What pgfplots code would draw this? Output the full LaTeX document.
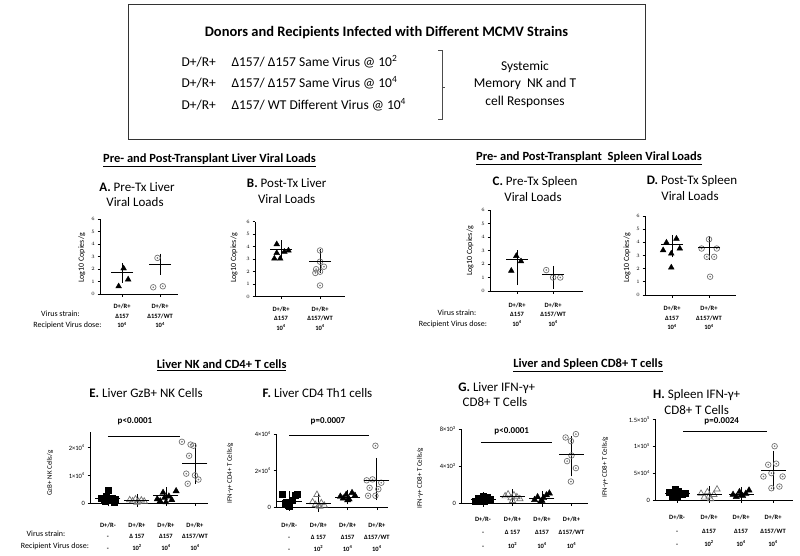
\documentclass[border=0pt]{standalone}
\usepackage{fontspec}
\setmainfont{Carlito}
\usepackage{pgfplots}
\pgfplotsset{compat=1.18}
\definecolor{cgray}{gray}{0.45}
\pgfdeclareplotmark{dotcircle}{%
  \pgfpathcircle{\pgfpointorigin}{\pgfplotmarksize}\pgfusepathqstroke
  \pgfpathcircle{\pgfpointorigin}{0.32\pgfplotmarksize}\pgfusepathqfill}
\pgfplotsset{
  panel/.style={scale only axis, anchor=south west, clip=false,
    axis lines*=left, axis line style={line width=0.9pt,-},
    tick align=outside, major tick length=2.5pt, tick style={line width=0.7pt,black},
    scaled y ticks=false,
    yticklabel style={font=\fontsize{5.5}{6}\selectfont, inner sep=0.5pt, xshift=-2pt},
    xticklabel style={align=center, inner sep=0pt, anchor=north}},
  eh/.style={yticklabel style={font=\fontsize{6.5}{7}\selectfont},
    tri/.style={only marks, mark=triangle*, mark size=3.6pt, black},
    otri/.style={only marks, mark=triangle, mark size=3.6pt, cgray, mark options={line width=0.7pt}},
    sq/.style={only marks, mark=square*, mark size=3pt, black},
    meanbar/.style={only marks, mark=-, mark size=12.5pt, black, mark options={line width=0.8pt},
      error bars/.cd, y dir=both, y explicit, error mark=-,
      error mark options={mark size=5pt, line width=0.8pt}, error bar style={line width=0.8pt}}},
  tri/.style={only marks, mark=triangle*, mark size=3.3pt, black},
  otri/.style={only marks, mark=triangle, mark size=3.3pt, cgray, mark options={line width=0.7pt}},
  sq/.style={only marks, mark=square*, mark size=2.7pt, black},
  circ/.style={only marks, mark=dotcircle, mark size=2.8pt, cgray, mark options={line width=0.7pt}},
  meanbar/.style={only marks, mark=-, mark size=11pt, black, mark options={line width=0.8pt},
    error bars/.cd, y dir=both, y explicit, error mark=-,
    error mark options={mark size=5pt, line width=0.8pt}, error bar style={line width=0.8pt}},
  sig/.style={black, line width=1pt},
}
\newcommand{\sq}[1]{\textsuperscript{#1}}
\begin{document}
\begin{tikzpicture}
\path[use as bounding box] (0pt,0pt) rectangle (800pt,-555pt);
% ---------- top box ----------
\draw[line width=1pt, black!80] (128pt,-4pt) rectangle (645pt,-139pt);
\node[font=\fontsize{14.5}{17}\selectfont\bfseries] at (386.5pt,-33pt) {Donors and Recipients Infected with Different MCMV Strains};
\begin{scope}[every node/.style={font=\fontsize{13.5}{16}\selectfont, anchor=west}]
\node at (178pt,-62pt) {D+/R+};
\node at (228pt,-62pt) {Δ157/ Δ157 Same Virus @ 10\sq{2}};
\node at (178pt,-83pt) {D+/R+};
\node at (228pt,-83pt) {Δ157/ Δ157 Same Virus @ 10\sq{4}};
\node at (178pt,-105pt) {D+/R+};
\node at (228pt,-105pt) {Δ157/ WT Different Virus @ 10\sq{4}};
\end{scope}
\draw[line width=1pt, black!70] (438pt,-50pt) -- (442pt,-50pt) -- (442pt,-119pt) -- (438pt,-119pt);
\draw[line width=1pt, black!70] (442pt,-87pt) -- (445pt,-87pt);
\begin{scope}[every node/.style={font=\fontsize{13.5}{16}\selectfont}]
\node at (525pt,-67pt) {Systemic};
\node at (525pt,-84pt) {Memory\ \ NK and T};
\node at (525pt,-102pt) {cell Responses};
\end{scope}
% ---------- headings ----------
\begin{scope}[every node/.style={font=\fontsize{12.5}{14}\selectfont\bfseries}]
\node at (209.5pt,-160pt) {\underline{Pre- and Post-Transplant Liver Viral Loads}};
\node at (589pt,-158.3pt) {\underline{Pre- and Post-Transplant\ \ Spleen Viral Loads}};
\node at (221.7pt,-365pt) {\underline{Liver NK and CD4+ T cells}};
\node at (588pt,-365pt) {\underline{Liver and Spleen CD8+ T cells}};
\end{scope}
% ---------- panel titles ----------
\begin{scope}[every node/.style={font=\fontsize{13}{15}\selectfont}]
\node at (137pt,-186.7pt) {\textbf{A.} Pre-Tx Liver};
\node at (135pt,-201.7pt) {Viral Loads};
\node at (286.7pt,-183.3pt) {\textbf{B.} Post-Tx Liver};
\node at (286.7pt,-199.3pt) {Viral Loads};
\node at (535pt,-181.7pt) {\textbf{C.} Pre-Tx Spleen};
\node at (533pt,-196.7pt) {Viral Loads};
\node at (692pt,-180.7pt) {\textbf{D.} Post-Tx Spleen};
\node at (690pt,-196pt) {Viral Loads};
\node at (146pt,-393.3pt) {\textbf{E.} Liver GzB+ NK Cells};
\node at (317.5pt,-393.3pt) {\textbf{F.} Liver CD4 Th1 cells};
\node at (496.7pt,-388.3pt) {\textbf{G.} Liver IFN-γ+};
\node at (495pt,-402pt) {CD8+ T Cells};
\node at (696.7pt,-395pt) {\textbf{H.} Spleen IFN-γ+};
\node at (696.7pt,-410pt) {CD8+ T Cells};
\end{scope}
% ---------- y labels ----------
\begin{scope}[every node/.style={font=\fontsize{8}{9}\selectfont, rotate=90}]
\node at (81.7pt,-258pt) {Log10 Copies/g};
\node at (234pt,-258pt) {Log10 Copies/g};
\node at (470pt,-251pt) {Log10 Copies/g};
\node at (627pt,-258pt) {Log10 Copies/g};
\end{scope}
\begin{scope}[every node/.style={font=\fontsize{7}{8}\selectfont, rotate=90}]
\node at (50pt,-473pt) {GzB+ NK Cells/g};
\node at (230pt,-473pt) {IFN-γ+ CD4+ T Cells/g};
\node at (420pt,-478pt) {IFN-γ+ CD8+ T Cells/g};
\node at (605pt,-467pt) {IFN-γ+ CD8+ T Cells/g};
\end{scope}
% ---------- row labels ----------
\begin{scope}[every node/.style={font=\fontsize{8}{9}\selectfont}]
\node at (60.5pt,-314pt) {Virus strain:};
\node at (67.5pt,-325pt) {Recipient Virus dose:};
\node at (457pt,-313pt) {Virus strain:};
\node at (453pt,-324pt) {Recipient Virus dose:};
\node at (46pt,-534pt) {Virus strain:};
\node at (55pt,-546pt) {Recipient Virus dose:};
\end{scope}
% ---------- p values ----------
\begin{scope}[every node/.style={font=\fontsize{9}{10}\selectfont\bfseries}]
\node at (135pt,-421.7pt) {p<0.0001};
\node at (328pt,-421.7pt) {p=0.0007};
\node at (511.7pt,-431.7pt) {p<0.0001};
\node at (721.7pt,-421.7pt) {p=0.0024};
\end{scope}

% ================= Panel A =================
\begin{axis}[panel, at={(100pt,-294pt)}, width=78pt, height=74.7pt,
  xmin=0.42, xmax=2.47, ymin=0, ymax=6, ytick={0,1,2,3,4,5,6},
  xtick={1,2}, xticklabels={{D+/R+\\Δ157\\10\sq{4}},{D+/R+\\Δ157/WT\\10\sq{4}}},
  xticklabel style={font=\fontsize{6.5}{9.5}\selectfont\bfseries, yshift=-7.5pt}]
\addplot[tri] coordinates {(0.91,0.62) (1.04,2.06) (1.16,1.17)};
\addplot[circ] coordinates {(1.82,0.54) (2.07,0.62) (1.93,2.9)};
\addplot[meanbar] coordinates {(1,1.7) += (0,0.4) -= (0,0.4)};
\addplot[meanbar] coordinates {(2,2.4) += (0,0.45) -= (0,0.45)};
\end{axis}
% ================= Panel B =================
\begin{axis}[panel, at={(255pt,-296.7pt)}, width=90pt, height=75pt,
  xmin=0.333, xmax=2.64, ymin=0, ymax=6, ytick={0,1,2,3,4,5,6},
  xtick={1,2}, xticklabels={{D+/R+\\Δ157\\10\sq{4}},{D+/R+\\Δ157/WT\\10\sq{4}}},
  xticklabel style={font=\fontsize{6.5}{9.5}\selectfont\bfseries, yshift=-7.5pt}]
\addplot[tri] coordinates {(0.89,4.2) (0.83,3.05) (0.98,3.05) (1.085,3.6) (1.19,3.7) (0.89,3.5)};
\addplot[circ] coordinates {(2,3.7) (2,2.8) (1.9,2.2) (2.1,2.4) (2,2.0) (1.88,1.9) (2,0.9)};
\addplot[meanbar] coordinates {(1,3.8) += (0,0.3) -= (0,0.4)};
\addplot[meanbar] coordinates {(2,2.85) += (0,0.55) -= (0,0.55)};
\end{axis}
% ================= Panel C =================
\begin{axis}[panel, at={(490pt,-291pt)}, width=93pt, height=81pt,
  xmin=0.25, xmax=2.83, ymin=0, ymax=6, ytick={0,1,2,3,4,5,6},
  xtick={1,2}, xticklabels={{D+/R+\\Δ157\\10\sq{4}},{D+/R+\\Δ157/WT\\10\sq{4}}},
  xticklabel style={font=\fontsize{6.5}{9.5}\selectfont\bfseries, yshift=-9pt}]
\addplot[tri] coordinates {(0.98,2.6) (1.11,2.2) (0.84,1.5)};
\addplot[circ] coordinates {(1.81,1.55) (2,1.0) (2.2,1.0)};
\addplot[meanbar] coordinates {(1,2.35) += (0,0.3) -= (0,1.55)};
\addplot[meanbar] coordinates {(2,1.25) += (0,0.25) -= (0,0.7)};
\end{axis}
% ================= Panel D =================
\begin{axis}[panel, at={(645pt,-295pt)}, width=91pt, height=79pt,
  xmin=0.27, xmax=2.73, ymin=0, ymax=6, ytick={0,1,2,3,4,5,6},
  xtick={1,2}, xticklabels={{D+/R+\\Δ157\\10\sq{4}},{D+/R+\\Δ157/WT\\10\sq{4}}},
  xticklabel style={font=\fontsize{6.5}{9.5}\selectfont\bfseries, yshift=-8.5pt}]
\addplot[tri] coordinates {(1.12,4.28) (0.85,3.98) (0.76,3.4) (0.98,3.15) (1.21,3.53) (0.98,2.09)};
\addplot[circ] coordinates {(2,4.23) (1.8,3.53) (2.21,3.53) (1.94,2.9) (2.14,2.9) (2.03,1.39)};
\addplot[meanbar] coordinates {(1,3.83) += (0,0.35) -= (0,0.6)};
\addplot[meanbar] coordinates {(2,3.6) += (0,0.5) -= (0,0.55)};
\end{axis}
% ================= Panel E =================
\begin{axis}[panel, eh, at={(90pt,-503.3pt)}, width=118pt, height=71.3pt,
  xmin=0.38, xmax=4.45, ymin=0, ymax=25500,
  ytick={0,10000,20000}, yticklabels={0,1×10\sq{4},2×10\sq{4}},
  xtick={1,2,3,4}, xticklabels={{D+/R-\\-\\-},{D+/R+\\Δ 157\\10\sq{2}},{D+/R+\\Δ157\\10\sq{4}},{D+/R+\\Δ157/WT\\10\sq{4}}},
  xticklabel style={font=\fontsize{6.5}{11.7}\selectfont\bfseries, yshift=-16.5pt}]
\addplot[sig] coordinates {(1,23800) (3.48,23800)};
\addplot[sq] coordinates {(0.78,1800) (0.86,1200) (1.0,4600) (0.94,2500) (1.06,1000) (1.14,2000) (1.25,1500) (0.9,600) (1.2,300)};
\addplot[otri] coordinates {(1.75,1200) (1.85,800) (1.95,1500) (2.05,600) (2.15,1100) (2.25,700) (2.0,300)};
\addplot[tri] coordinates {(2.7,1500) (2.8,800) (2.9,3800) (3.0,400) (3.1,2500) (3.2,1200) (3.35,4400) (2.95,2000)};
\addplot[circ] coordinates {(3.55,22000) (3.95,20600) (3.85,21000) (3.8,17000) (3.7,10600) (4.0,10000) (4.12,8500) (3.75,7000)};
\addplot[meanbar] coordinates {(1,1900) += (0,1200) -= (0,1200)};
\addplot[meanbar] coordinates {(2,900) += (0,500) -= (0,500)};
\addplot[meanbar] coordinates {(3,2700) += (0,1300) -= (0,1300)};
\addplot[meanbar] coordinates {(4,14300) += (0,5500) -= (0,5500)};
\end{axis}
% ================= Panel F =================
\begin{axis}[panel, eh, at={(276pt,-507.5pt)}, width=112pt, height=73.5pt,
  xmin=0.55, xmax=4.38, ymin=0, ymax=40000,
  ytick={0,20000,40000}, yticklabels={0,2×10\sq{4},4×10\sq{4}},
  xtick={1,2,3,4}, xticklabels={{D+/R-\\-\\-},{D+/R+\\Δ 157\\10\sq{2}},{D+/R+\\Δ157\\10\sq{4}},{D+/R+\\Δ157/WT\\10\sq{4}}},
  xticklabel style={font=\fontsize{6.5}{12}\selectfont\bfseries, yshift=-12.5pt}]
\addplot[sig] coordinates {(1,39400) (3.72,39400)};
\addplot[sq] coordinates {(0.75,7000) (0.85,2500) (0.95,1500) (1.0,800) (1.1,4000) (1.2,6800) (1.28,7000) (0.9,3000)};
\addplot[otri] coordinates {(1.95,7000) (1.8,3000) (1.9,1500) (2.0,800) (2.1,2500) (2.2,1200) (2.05,500)};
\addplot[tri] coordinates {(2.75,6000) (2.85,5000) (2.95,7000) (3.05,4500) (3.15,8000) (3.25,6500) (3.0,4000)};
\addplot[circ] coordinates {(3.95,33600) (3.85,15300) (3.65,14800) (4.15,13500) (3.75,10700) (4.05,10000) (3.7,6400) (3.95,6400)};
\addplot[meanbar] coordinates {(1,3500) += (0,2500) -= (0,2500)};
\addplot[meanbar] coordinates {(2,2500) += (0,2000) -= (0,2000)};
\addplot[meanbar] coordinates {(3,5700) += (0,1300) -= (0,1300)};
\addplot[meanbar] coordinates {(4,14800) += (0,9500) -= (0,8000)};
\end{axis}
% ================= Panel G =================
\begin{axis}[panel, eh, at={(461pt,-503.5pt)}, width=127pt, height=74.5pt,
  xmin=0.254, xmax=4.56, ymin=0, ymax=8000,
  ytick={0,4000,8000}, yticklabels={0,4×10\sq{3},8×10\sq{3}},
  xtick={1,2,3,4}, xticklabels={{D+/R-\\-\\-},{D+/R+\\Δ 157\\10\sq{2}},{D+/R+\\Δ157\\10\sq{4}},{D+/R+\\Δ157/WT\\10\sq{4}}},
  xticklabel style={font=\fontsize{6.5}{13.5}\selectfont\bfseries, yshift=-10.5pt}]
\addplot[sig] coordinates {(0.93,6530) (3.34,6530)};
\addplot[sq] coordinates {(0.75,300) (0.85,600) (0.95,400) (1.05,200) (1.15,700) (1.25,500) (1.0,800) (0.9,250)};
\addplot[otri] coordinates {(1.75,800) (1.85,1000) (1.95,600) (2.05,900) (2.15,700) (2.25,500) (2.0,300)};
\addplot[tri] coordinates {(2.75,400) (2.85,700) (2.95,200) (3.05,600) (3.15,900) (3.25,1100) (3.0,300)};
\addplot[circ] coordinates {(3.8,7090) (4.15,7450) (3.98,6700) (4.0,5160) (3.85,4550) (4.15,3800) (3.98,2360)};
\addplot[meanbar] coordinates {(1,450) += (0,250) -= (0,250)};
\addplot[meanbar] coordinates {(2,750) += (0,250) -= (0,250)};
\addplot[meanbar] coordinates {(3,500) += (0,300) -= (0,300)};
\addplot[meanbar] coordinates {(4,5300) += (0,1400) -= (0,1850)};
\end{axis}
% ================= Panel H =================
\begin{axis}[panel, eh, at={(655pt,-500pt)}, width=138pt, height=80.7pt,
  xmin=0.31, xmax=4.625, ymin=0, ymax=150000,
  ytick={0,50000,100000,150000}, yticklabels={0,5×10\sq{4},1×10\sq{5},1.5×10\sq{5}},
  xtick={1,2,3,4}, xticklabels={{D+/R-\\-\\-},{D+/R+\\Δ157\\10\sq{2}},{D+/R+\\Δ157\\10\sq{4}},{D+/R+\\Δ157/WT\\10\sq{4}}},
  xticklabel style={font=\fontsize{6.5}{13.3}\selectfont\bfseries, yshift=-12.5pt}]
\addplot[sig] coordinates {(1.19,127000) (3.81,127000)};
\addplot[sq] coordinates {(0.75,14000) (0.85,8000) (0.95,20000) (1.05,17000) (1.15,10000) (1.25,12000) (1.0,6000) (0.9,15000)};
\addplot[otri] coordinates {(1.75,12000) (1.85,5000) (1.95,15000) (2.05,2000) (2.15,10000) (2.25,20000) (2.0,7000)};
\addplot[tri] coordinates {(2.75,10000) (2.85,6000) (2.95,15000) (3.05,8000) (3.15,12000) (3.25,18000) (3.0,9000)};
\addplot[circ] coordinates {(4.05,100000) (3.85,65600) (4.1,67500) (3.95,50000) (4.3,43700) (3.7,43700) (3.95,21900) (4.2,25000)};
\addplot[meanbar] coordinates {(1,12000) += (0,4500) -= (0,4500)};
\addplot[meanbar] coordinates {(2,10000) += (0,6000) -= (0,6000)};
\addplot[meanbar] coordinates {(3,11000) += (0,4000) -= (0,4000)};
\addplot[meanbar] coordinates {(4,55000) += (0,27000) -= (0,27000)};
\end{axis}
\end{tikzpicture}
\end{document}
